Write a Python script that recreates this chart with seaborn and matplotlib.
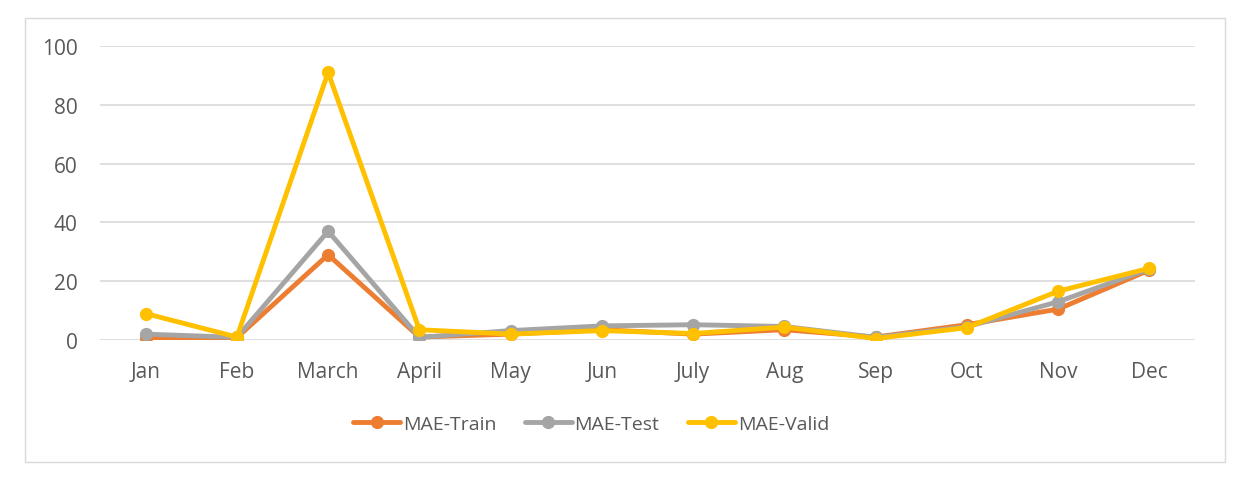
import matplotlib
matplotlib.use("Agg")
import matplotlib.pyplot as plt
import seaborn as sns
import pandas as pd
from matplotlib.patches import Rectangle
from matplotlib.lines import Line2D

months = ["Jan", "Feb", "March", "April", "May", "Jun", "July", "Aug", "Sep", "Oct", "Nov", "Dec"]
mae_train = [0.7, 0.8, 29, 1.0, 2.0, 3.5, 2.0, 3.5, 1.0, 5.2, 10.5, 23.8]
mae_test = [2.0, 0.9, 37, 0.9, 3.2, 4.8, 5.2, 4.6, 0.9, 4.5, 13.0, 24.2]
mae_valid = [9.0, 1.0, 91, 3.5, 2.0, 3.2, 2.2, 4.4, 0.5, 4.2, 16.6, 24.4]
series_names = ["MAE-Train", "MAE-Test", "MAE-Valid"]
colors = ["#ED7D31", "#A5A5A5", "#FFC000"]
yticks = [0, 20, 40, 60, 80, 100]

df = pd.DataFrame({"Month": months * 3,
                   "idx": list(range(12)) * 3,
                   "Value": mae_train + mae_test + mae_valid,
                   "Series": [series_names[0]] * 12 + [series_names[1]] * 12 + [series_names[2]] * 12})

sns.set_theme(style="white")
plt.rcParams['font.family'] = ['Open Sans', 'DejaVu Sans']

W, H = 1244, 485
fig = plt.figure(figsize=(W / 100, H / 100), dpi=100)
fig.patch.set_facecolor("white")
# outer border
fig.patches.append(Rectangle((25 / W, 1 - 463 / H), 1200 / W, 444 / H, transform=fig.transFigure,
                             fill=False, edgecolor="#D9D9D9", linewidth=1.0))

ax = fig.add_axes([100 / W, 1 - 341 / H, 1095 / W, 294 / H])
sns.lineplot(data=df, x="idx", y="Value", hue="Series", palette=colors, ax=ax,
             marker="o", markersize=9.5, markeredgewidth=0, linewidth=3.5, legend=False, sort=False)

ax.set_xlim(-0.5, 11.5)
ax.set_ylim(0, 100)
ax.set_yticks(yticks)
ax.set_xticks(range(12))
ax.set_xticklabels(months)
ax.set_xlabel("")
ax.set_ylabel("")
ax.grid(axis="y", color="#D9D9D9", linewidth=1.2)
ax.set_axisbelow(True)
for s in ax.spines.values():
    s.set_visible(False)
ax.tick_params(axis="both", length=0, labelsize=15, colors="#595959")
ax.tick_params(axis="y", pad=16)
ax.tick_params(axis="x", pad=15)

handles = [Line2D([], [], color=c, linewidth=3.5, marker="o", markersize=9.5, markeredgewidth=0) for c in colors]
leg = fig.legend(handles, series_names, loc="center", bbox_to_anchor=(591 / W, 1 - 425 / H), ncol=3,
                 frameon=False, fontsize=14, handlelength=2.42, handletextpad=0.15, columnspacing=1.45)
for t in leg.get_texts():
    t.set_color("#595959")

fig.savefig("out.png", dpi=100, facecolor="white")
